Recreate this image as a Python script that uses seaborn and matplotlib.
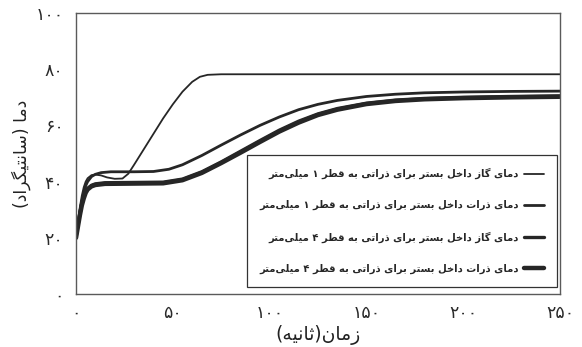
import matplotlib
matplotlib.use("Agg")
import matplotlib.pyplot as plt
import seaborn as sns
import pandas as pd

# ---------------------------------------------------------------- data
# gas temperature, 1 mm particles
t_gas1 = [0, 1, 2, 3, 4, 5, 6, 8, 10, 13, 16, 20, 24, 27, 30, 35, 40, 45, 50,
          55, 60, 64, 68, 75, 100, 150, 200, 250]
T_gas1 = [20, 26, 31, 35, 38, 40, 41.2, 42.3, 42.5, 42.2, 41.5, 41.0, 41.1,
          42.8, 46.0, 51.5, 57.0, 62.5, 67.5, 72.0, 75.5, 77.3, 78.0, 78.2,
          78.2, 78.2, 78.2, 78.2]

# particle temperature, 1 mm particles
t_par1 = [0, 1, 2, 3, 4, 5, 6, 8, 10, 13, 18, 30, 40, 48, 55, 65, 75, 85, 95,
          105, 115, 125, 135, 150, 165, 180, 200, 225, 250]
T_par1 = [20, 25, 29.5, 33, 36, 38.5, 40, 41.8, 42.6, 43.2, 43.5, 43.5, 43.6,
          44.4, 46.0, 49.3, 53.0, 56.6, 60.0, 63.0, 65.6, 67.5, 68.9, 70.3,
          71.1, 71.6, 71.9, 72.1, 72.2]

# gas temperature, 4 mm particles
t_gas4 = [0, 1, 2, 3, 4, 5, 6, 8, 10, 15, 30, 45, 55, 65, 75, 85, 95, 105,
          115, 125, 135, 150, 165, 180, 200, 225, 250]
T_gas4 = [20, 24.3, 28.4, 31.9, 34.4, 36.4, 37.6, 38.7, 39.2, 39.6, 39.7, 39.8,
          40.9, 43.5, 47.0, 50.8, 54.6, 58.3, 61.5, 64.1, 66.0, 67.9, 69.0,
          69.6, 70.0, 70.3, 70.5]

# particle temperature, 4 mm particles
t_par4 = [0, 1, 2, 3, 4, 5, 6, 8, 10, 15, 30, 45, 55, 65, 75, 85, 95, 105,
          115, 125, 135, 150, 165, 180, 200, 225, 250]
T_par4 = [20, 24, 28, 31.5, 34, 36, 37.2, 38.3, 38.8, 39.2, 39.3, 39.4, 40.5,
          43.1, 46.6, 50.3, 54.1, 57.8, 61.0, 63.7, 65.6, 67.6, 68.7, 69.3,
          69.7, 70.0, 70.2]

series_labels = [
    "دمای گاز داخل بستر برای ذراتی به قطر ۱ میلی‌متر",
    "دمای ذرات داخل بستر برای ذراتی به قطر ۱ میلی‌متر",
    "دمای گاز داخل بستر برای ذراتی به قطر ۴ میلی‌متر",
    "دمای ذرات داخل بستر برای ذراتی به قطر ۴ میلی‌متر",
]
x_title = "زمان(ثانیه)"
y_title = "دما (سانتیگراد)"

x_ticks = [0, 50, 100, 150, 200, 250]
y_ticks = [0, 20, 40, 60, 80, 100]

# ---------------------------------------------------- Persian text shaping
# (isolated, final, initial, medial); right-joining letters have no initial/medial
FORMS = {
    "ا": ("\uFE8D", "\uFE8E", None, None),
    "ب": ("\uFE8F", "\uFE90", "\uFE91", "\uFE92"),
    "ت": ("\uFE95", "\uFE96", "\uFE97", "\uFE98"),
    "ث": ("\uFE99", "\uFE9A", "\uFE9B", "\uFE9C"),
    "خ": ("\uFEA5", "\uFEA6", "\uFEA7", "\uFEA8"),
    "د": ("\uFEA9", "\uFEAA", None, None),
    "ذ": ("\uFEAB", "\uFEAC", None, None),
    "ر": ("\uFEAD", "\uFEAE", None, None),
    "ز": ("\uFEAF", "\uFEB0", None, None),
    "س": ("\uFEB1", "\uFEB2", "\uFEB3", "\uFEB4"),
    "ط": ("\uFEC1", "\uFEC2", "\uFEC3", "\uFEC4"),
    "ق": ("\uFED5", "\uFED6", "\uFED7", "\uFED8"),
    "ل": ("\uFEDD", "\uFEDE", "\uFEDF", "\uFEE0"),
    "م": ("\uFEE1", "\uFEE2", "\uFEE3", "\uFEE4"),
    "ن": ("\uFEE5", "\uFEE6", "\uFEE7", "\uFEE8"),
    "ه": ("\uFEE9", "\uFEEA", "\uFEEB", "\uFEEC"),
    "ی": ("\uFBFC", "\uFBFD", "\uFBFE", "\uFBFF"),
    "گ": ("\uFB92", "\uFB93", "\uFB94", "\uFB95"),
}
FA_DIGITS = "۰۱۲۳۴۵۶۷۸۹"
MIRROR = {"(": ")", ")": "("}


def shape_fa(text):
    """Join Persian letters and lay the string out right-to-left."""
    chars = list(text)
    shaped = []
    for i, c in enumerate(chars):
        if c not in FORMS:
            if c != "\u200c":
                shaped.append(c)
            continue
        iso, fin, ini, med = FORMS[c]
        prev = chars[i - 1] if i > 0 else None
        nxt = chars[i + 1] if i + 1 < len(chars) else None
        join_prev = prev in FORMS and FORMS[prev][2] is not None
        join_next = ini is not None and nxt in FORMS
        if join_prev and join_next:
            shaped.append(med)
        elif join_prev:
            shaped.append(fin)
        elif join_next:
            shaped.append(ini)
        else:
            shaped.append(iso)
    visual = [MIRROR.get(c, c) for c in reversed(shaped)]
    # keep digit runs left-to-right
    out, run = [], []
    for c in visual:
        if c in FA_DIGITS:
            run.append(c)
        else:
            out.extend(reversed(run))
            run = []
            out.append(c)
    out.extend(reversed(run))
    return "".join(out)


def fa_num(v):
    return "".join(FA_DIGITS[int(d)] for d in str(v))


# ---------------------------------------------------------------- figure
sns.set_style("white")
plt.rcParams["font.family"] = ["DejaVu Sans"]

line_color = "#262626"
frame_color = "#5a5a5a"

fig = plt.figure(figsize=(5.82, 3.47), dpi=100)
ax = fig.add_axes([0.1306, 0.1527, 0.8316, 0.8098])

series = [
    (t_gas1, T_gas1, 1.3),
    (t_par1, T_par1, 2.0),
    (t_gas4, T_gas4, 2.4),
    (t_par4, T_par4, 3.2),
]
for (t, T, lw), lab in zip(series, series_labels):
    df = pd.DataFrame({"t": t, "T": T})
    sns.lineplot(data=df, x="t", y="T", ax=ax, color=line_color,
                 linewidth=lw, label=shape_fa(lab), sort=False)

ax.set_xlim(0, 250)
ax.set_ylim(0, 100)
ax.set_xticks(x_ticks, labels=[fa_num(v) for v in x_ticks])
ax.set_yticks(y_ticks, labels=[fa_num(v) for v in y_ticks])
ax.tick_params(axis="both", length=0, labelsize=12.5, colors="#2a2a2a")
ax.tick_params(axis="x", pad=7)
ax.tick_params(axis="y", pad=9)

ax.set_xlabel(shape_fa(x_title), fontsize=13.5, color="#222222", labelpad=2)
ax.set_ylabel(shape_fa(y_title), fontsize=12.5, color="#222222", labelpad=3)

for sp in ax.spines.values():
    sp.set_color(frame_color)
    sp.set_linewidth(1.0)

leg = ax.legend(loc="lower right", bbox_to_anchor=(0.994, 0.025),
                borderaxespad=0, markerfirst=False, frameon=True,
                fancybox=False, framealpha=1, edgecolor="#333333",
                prop={"size": 7.2, "weight": "bold"}, handlelength=2.0,
                handletextpad=0.5, labelspacing=2.1, borderpad=1.3)
leg.get_frame().set_linewidth(0.9)

fig.savefig("out.png", dpi=100)
